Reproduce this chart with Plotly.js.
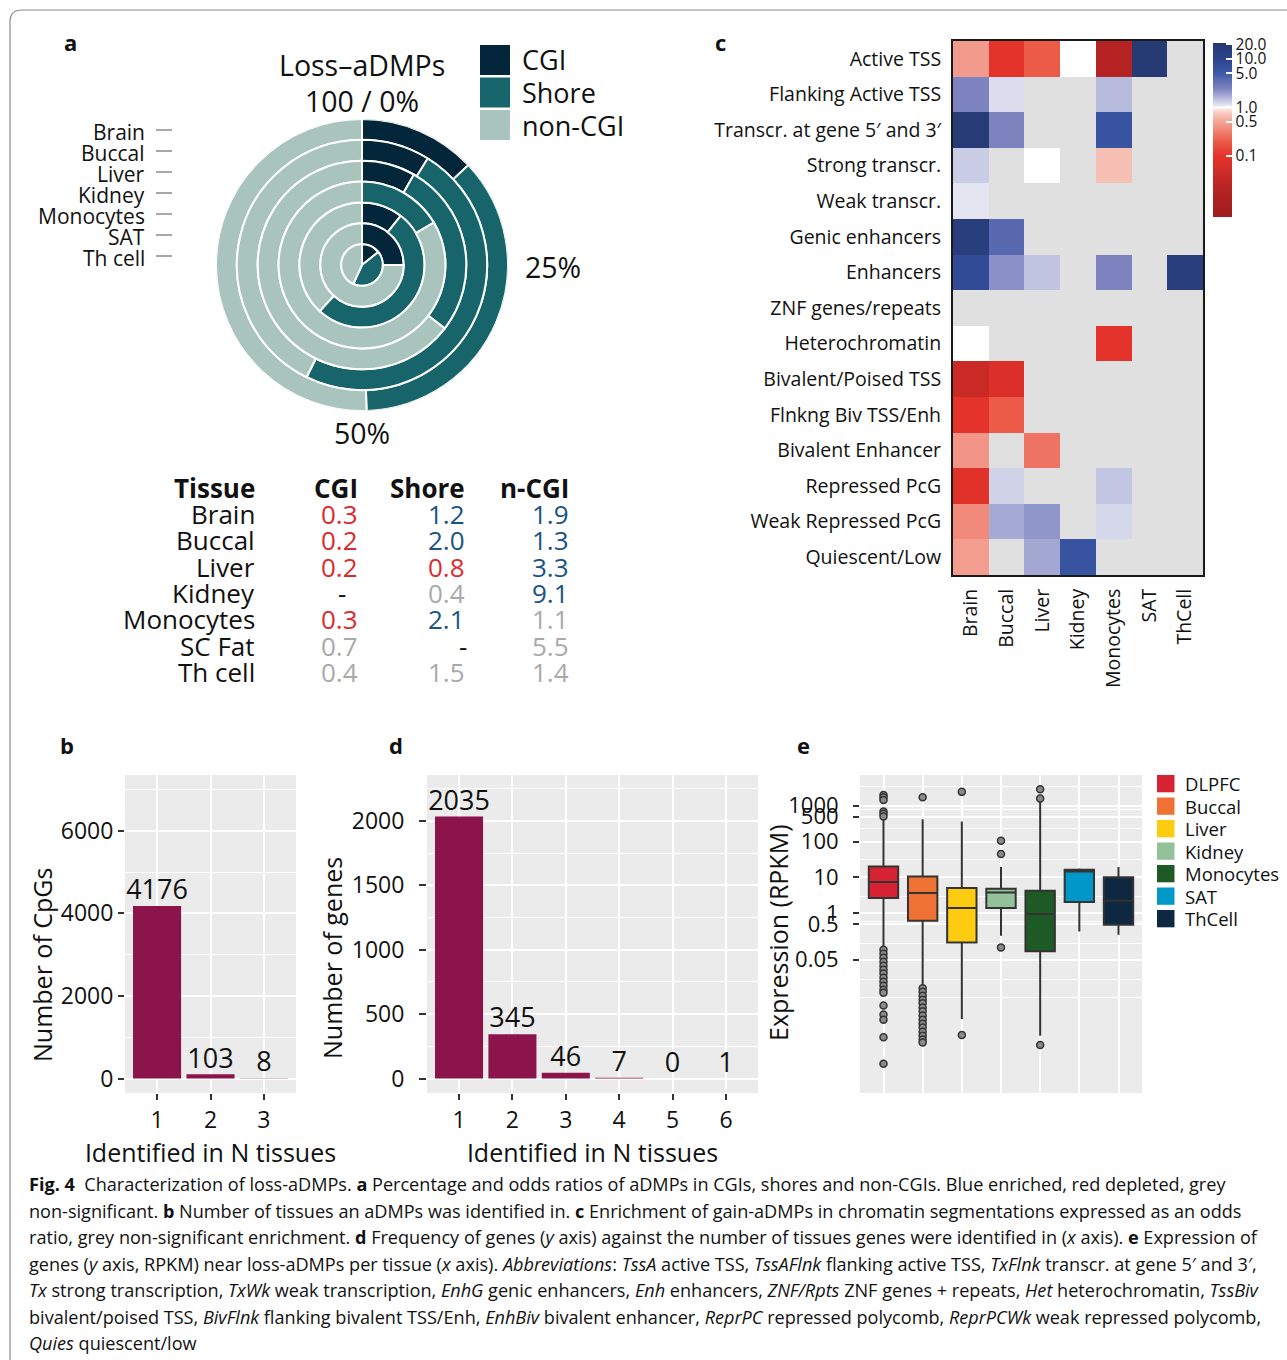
<!DOCTYPE html>
<html><head><meta charset="utf-8">
<script src="https://cdn.plot.ly/plotly-3.0.1.min.js"></script>
<style>html,body{margin:0;padding:0;background:#fff}</style>
</head><body><div id="chart" style="width:1287px;height:1360px"></div>
<script>
const W = 1287, H = 1360;
const FONT = '"Open Sans", sans-serif';

// ---------- Panel a : nested donut (percent of loss-aDMPs) ----------
const ringTissues = ["Brain","Buccal","Liver","Kidney","Monocytes","SAT","Th cell"];
const pctCGI    = [13.0, 8.8, 8.3, 0, 10.6, 25.0, 14.3];
const pctShore  = [36.5, 48.5, 27.1, 16.5, 51.2, 0, 42.6];
const pctNonCGI = [50.5, 42.7, 64.6, 83.5, 38.2, 75.0, 43.1];
const regionNames  = ["CGI","Shore","non-CGI"];
const regionColors = ["#03263a","#17646a","#a9c4bd"];

// ---------- Panel a : odds-ratio table ----------
const tableTissues = ["Brain","Buccal","Liver","Kidney","Monocytes","SC Fat","Th cell"];
const orCGI    = ["0.3","0.2","0.2","-","0.3","0.7","0.4"];
const orShore  = ["1.2","2.0","0.8","0.4","2.1","-","1.5"];
const orNonCGI = ["1.9","1.3","3.3","9.1","1.1","5.5","1.4"];
const sigCGI    = ["dep","dep","dep","none","dep","ns","ns"];
const sigShore  = ["enr","enr","dep","ns","enr","none","ns"];
const sigNonCGI = ["enr","enr","enr","enr","ns","ns","ns"];

// ---------- Panel c : chromatin-state enrichment (odds ratio) ----------
const chromStates = ["Active TSS","Flanking Active TSS","Transcr. at gene 5\u2032 and 3\u2032","Strong transcr.","Weak transcr.","Genic enhancers","Enhancers","ZNF genes/repeats","Heterochromatin","Bivalent/Poised TSS","Flnkng Biv TSS/Enh","Bivalent Enhancer","Repressed PcG","Weak Repressed PcG","Quiescent/Low"];
const heatTissues = ["Brain","Buccal","Liver","Kidney","Monocytes","SAT","ThCell"];
const oddsRatio = [
  [0.45, 0.1,  0.2,  1,    0.02, 20,   null],
  [2.5,  1.2,  null, null, 1.55, null, null],
  [18,   2.5,  null, null, 6,    null, null],
  [1.35, null, 1,    null, 0.7,  null, null],
  [1.12, null, null, null, null, null, null],
  [15,   3.8,  null, null, null, null, null],
  [8,    2.2,  1.45, null, 2.5,  null, 15],
  [null, null, null, null, null, null, null],
  [1,    null, null, null, 0.1,  null, null],
  [0.04, 0.07, null, null, null, null, null],
  [0.1,  0.2,  null, null, null, null, null],
  [0.42, null, 0.27, null, null, null, null],
  [0.09, 1.3,  null, null, 1.42, null, null],
  [0.36, 1.75, 2.1,  null, 1.25, null, null],
  [0.47, null, 1.8,  6,    null, null, null]
];
const cbTickOR   = [20, 10, 5, 1, 0.5, 0.1];
const cbTickText = ["20.0","10.0","5.0","1.0","0.5","0.1"];

// ---------- Panel b ----------
const nTissuesB = [1, 2, 3];
const cpgCounts = [4176, 103, 8];

// ---------- Panel d ----------
const nTissuesD = [1, 2, 3, 4, 5, 6];
const geneCounts = [2035, 345, 46, 7, 0, 1];

// ---------- Panel e : expression (RPKM) box statistics ----------
const exprTissues = ["DLPFC","Buccal","Liver","Kidney","Monocytes","SAT","ThCell"];
const exprColors  = ["#d62232","#ef7234","#fdcb10","#93c19a","#1e5a26","#0098c8","#0d2840"];
const exprQ1      = [2.63, 0.61, 0.151, 1.38, 0.085, 2.03, 0.471];
const exprMedian  = [7.35, 3.62, 1.38, 3.76, 0.94, 14.5, 2.21];
const exprQ3      = [20.0, 10.5, 4.99, 4.77, 4.2, 16.2, 10.1];
const exprLowFence = [0.105, 0.0089, 0.0011, 0.232, 0.00037, 0.306, 0.248];
const exprUpFence  = [407, 423, 362, 19.3, 1310, 17.6, 19.3];
const exprOutliers = [
  [2000,1740,1460,690,594,500,0.0944,0.0731,0.0565,0.0437,0.0338,0.0262,0.0203,0.0156,0.0121,0.0093,0.0072,0.0059,0.0026,0.00145,0.00105,0.00034,0.0000617],
  [1740,0.0079,0.0063,0.0049,0.0038,0.0030,0.0023,0.0018,0.00136,0.00105,0.00081,0.00063,0.00048,0.00037,0.00029,0.00024],
  [2445,0.00039],
  [104.6,44.5,0.109],
  [2910,1590,0.000205],
  [],
  []
];
const exprTickVals = [1000, 500, 100, 10, 1, 0.5, 0.05];
const exprTickText = ["1000","500","100","10","1","0.5","0.05"];

// ================= build =================
const px = x => x / W;
const py = y => 1 - y / H;
const traces = [];
const shapes = [];
const annotations = [];
function ann(text, x, y, size, opt) {
  const a = {text: text, x: px(x), y: py(y), xref: 'paper', yref: 'paper', showarrow: false,
    xanchor: 'center', yanchor: 'middle', font: {family: FONT, size: size, color: '#111'}};
  return Object.assign(a, opt || {});
}

// --- donut as stacked barpolar rings ---
const pctSets = [pctCGI, pctShore, pctNonCGI];
regionNames.forEach((name, k) => {
  const theta = [], width = [], base = [], r = [];
  ringTissues.forEach((t, i) => {
    let start = 0;
    for (let j = 0; j < k; j++) start += pctSets[j][i];
    theta.push((start + pctSets[k][i] / 2) * 3.6);
    width.push(pctSets[k][i] * 3.6);
    base.push(ringTissues.length - 1 - i);
    r.push(1);
  });
  traces.push({type: 'barpolar', subplot: 'polar', name: name, theta: theta, width: width, base: base, r: r,
    text: ringTissues, marker: {color: regionColors[k], line: {color: '#ffffff', width: 2}}, showlegend: false});
});

// donut labels
annotations.push(ann('Loss\u2013aDMPs', 362, 65, 28.5));
annotations.push(ann('100 / 0%', 362, 101, 28.5));
annotations.push(ann('25%', 553, 267, 28.5));
annotations.push(ann('50%', 362, 433, 28.5));
ringTissues.forEach((t, i) => {
  const y = 132 + i * 21;
  annotations.push(ann(t, 147, y, 21, {xanchor: 'right'}));
  shapes.push({type: 'line', xref: 'paper', yref: 'paper', x0: px(156), x1: px(172), y0: py(y - 2), y1: py(y - 2), line: {color: '#8a8a8a', width: 1.5}});
});
// donut legend
regionNames.forEach((n, k) => {
  const top = 45 + k * 32.5;
  shapes.push({type: 'rect', xref: 'paper', yref: 'paper', x0: px(480), x1: px(510), y0: py(top + 30), y1: py(top), fillcolor: regionColors[k], line: {width: 0}});
  annotations.push(ann(n, 520, top + 15, 27, {xanchor: 'left'}));
});

// --- table ---
const sigColor = {dep: '#dc2a30', enr: '#1b5384', ns: '#a9a9a9', none: '#111'};
const colX = [257, 360, 467, 571];
annotations.push(ann('<b>Tissue</b>', colX[0], 488, 26, {xanchor: 'right'}));
annotations.push(ann('<b>CGI</b>', colX[1], 488, 26, {xanchor: 'right'}));
annotations.push(ann('<b>Shore</b>', colX[2], 488, 26, {xanchor: 'right'}));
annotations.push(ann('<b>n-CGI</b>', colX[3], 488, 26, {xanchor: 'right'}));
tableTissues.forEach((t, i) => {
  const y = 514 + i * 26.3;
  annotations.push(ann(t, colX[0], y, 26, {xanchor: 'right'}));
  [[orCGI, sigCGI], [orShore, sigShore], [orNonCGI, sigNonCGI]].forEach((pair, c) => {
    const v = pair[0][i], s = pair[1][i];
    const opt = v === '-' ? {xanchor: 'center', x: px(colX[c + 1] - (c === 0 ? 18 : 4))} : {xanchor: 'right'};
    const a = ann(v, colX[c + 1], y, 26, opt);
    a.font.color = sigColor[s];
    annotations.push(a);
  });
});

// --- heatmap ---
const zMin = -2.25, zMax = 1.33;
const scalePts = [
  [-2.25, '#a01c20'], [-1.7, '#b42322'], [-1.4, '#c92a26'], [-1.0, '#e4332b'], [-0.7, '#ec5a48'],
  [-0.5, '#f08070'], [-0.3, '#f3a293'], [-0.15, '#f6c1b6'], [-0.03, '#fde6e2'], [0, '#ffffff'],
  [0.03, '#ebebf5'], [0.1, '#d4d6ea'], [0.25, '#a4a9d4'], [0.4, '#7b82bf'], [0.55, '#5f6db3'],
  [0.7, '#3d59a5'], [0.85, '#34509c'], [1.0, '#2b438b'], [1.3, '#263a74'], [1.33, '#223368']
];
const colorscale = scalePts.map(p => [(p[0] - zMin) / (zMax - zMin), p[1]]);
traces.push({type: 'heatmap', xaxis: 'x2', yaxis: 'y2', x: heatTissues, y: chromStates,
  z: oddsRatio.map(row => row.map(v => v == null ? null : Math.log10(v))),
  zmin: zMin, zmax: zMax, colorscale: colorscale, hoverongaps: false,
  colorbar: {x: px(1213), xanchor: 'left', y: py(42.7), yanchor: 'top', len: 174, lenmode: 'pixels',
    thickness: 19, thicknessmode: 'pixels', outlinewidth: 0, xpad: 0, ypad: 0,
    tickmode: 'array', tickvals: cbTickOR.map(v => Math.log10(v)), ticktext: cbTickText,
    ticks: 'inside', ticklen: 6, tickwidth: 2, tickcolor: '#ffffff', ticklabelstandoff: 2,
    tickfont: {family: FONT, size: 15.5, color: '#111'}}});
shapes.push({type: 'rect', xref: 'x2 domain', yref: 'y2 domain', x0: 0, x1: 1, y0: 0, y1: 1, fillcolor: '#e0e0e0', line: {width: 0}, layer: 'below'});

// --- panel b bars ---
const barColor = '#8b154b';
traces.push({type: 'bar', xaxis: 'x3', yaxis: 'y3', x: nTissuesB, y: cpgCounts, width: 0.9, marker: {color: barColor}, showlegend: false});
traces.push({type: 'scatter', mode: 'text', xaxis: 'x3', yaxis: 'y3', x: nTissuesB, y: cpgCounts, text: cpgCounts.map(String),
  textposition: 'top center', textfont: {family: FONT, size: 27, color: '#111'}, cliponaxis: false, showlegend: false});

// --- panel d bars ---
traces.push({type: 'bar', xaxis: 'x4', yaxis: 'y4', x: nTissuesD, y: geneCounts, width: 0.9, marker: {color: barColor}, showlegend: false});
traces.push({type: 'scatter', mode: 'text', xaxis: 'x4', yaxis: 'y4', x: nTissuesD, y: geneCounts, text: geneCounts.map(String),
  textposition: 'top center', textfont: {family: FONT, size: 27, color: '#111'}, cliponaxis: false, showlegend: false});

// --- panel e boxes ---
exprTissues.forEach((t, i) => {
  traces.push({type: 'box', xaxis: 'x5', yaxis: 'y5', name: t, x: [i + 1],
    q1: [exprQ1[i]], median: [exprMedian[i]], q3: [exprQ3[i]],
    lowerfence: [exprLowFence[i]], upperfence: [exprUpFence[i]],
    width: 0.75, whiskerwidth: 0, boxpoints: false, fillcolor: exprColors[i],
    line: {color: '#333333', width: 2}, showlegend: false});
});
const outX = [], outY = [];
exprOutliers.forEach((arr, i) => arr.forEach(v => { outX.push(i + 1); outY.push(v); }));
traces.push({type: 'scatter', mode: 'markers', xaxis: 'x5', yaxis: 'y5', x: outX, y: outY,
  marker: {symbol: 'circle', size: 7, color: '#8a8a8a', line: {color: '#333333', width: 1.5}}, showlegend: false});
shapes.push({type: 'line', xref: 'x5 domain', yref: 'y5', x0: 0, x1: 1, y0: 0, y1: 0, line: {color: '#000', width: 1.5}, layer: 'above'});
// legend e
exprTissues.forEach((t, i) => {
  const top = 775 + i * 22.5;
  shapes.push({type: 'rect', xref: 'paper', yref: 'paper', x0: px(1157), x1: px(1174.5), y0: py(top + 17.3), y1: py(top), fillcolor: exprColors[i], line: {width: 0}});
  annotations.push(ann(t, 1183, top + 8.6, 18.5, {xanchor: 'left'}));
});

// axis titles (y) for b, d, e
annotations.push(ann('Number of CpGs', 42, 965, 25, {textangle: -90}));
annotations.push(ann('Number of genes', 332, 958, 25, {textangle: -90}));
annotations.push(ann('Expression (RPKM)', 778, 933, 25, {textangle: -90}));

// panel letters
[['a', 70, 42], ['c', 720, 42], ['b', 67, 745], ['d', 396, 745], ['e', 803, 745]].forEach(p => {
  annotations.push(ann('<b>' + p[0] + '</b>', p[1], p[2], 22));
});

// caption
const captionLines = [
  '<b>Fig. 4</b>  Characterization of loss-aDMPs. <b>a</b> Percentage and odds ratios of aDMPs in CGIs, shores and non-CGIs. Blue enriched, red depleted, grey',
  'non-significant. <b>b</b> Number of tissues an aDMPs was identified in. <b>c</b> Enrichment of gain-aDMPs in chromatin segmentations expressed as an odds',
  'ratio, grey non-significant enrichment. <b>d</b> Frequency of genes (<i>y</i> axis) against the number of tissues genes were identified in (<i>x</i> axis). <b>e</b> Expression of',
  'genes (<i>y</i> axis, RPKM) near loss-aDMPs per tissue (<i>x</i> axis). <i>Abbreviations</i>: <i>TssA</i> active TSS, <i>TssAFlnk</i> flanking active TSS, <i>TxFlnk</i> transcr. at gene 5\u2032 and 3\u2032,',
  '<i>Tx</i> strong transcription, <i>TxWk</i> weak transcription, <i>EnhG</i> genic enhancers, <i>Enh</i> enhancers, <i>ZNF/Rpts</i> ZNF genes + repeats, <i>Het</i> heterochromatin, <i>TssBiv</i>',
  'bivalent/poised TSS, <i>BivFlnk</i> flanking bivalent TSS/Enh, <i>EnhBiv</i> bivalent enhancer, <i>ReprPC</i> repressed polycomb, <i>ReprPCWk</i> weak repressed polycomb,',
  '<i>Quies</i> quiescent/low'
];
captionLines.forEach((l, i) => {
  annotations.push(ann(l, 27, 1184 + i * 26.5, 18.1, {xanchor: 'left'}));
});

// frame
shapes.push({type: 'path', xref: 'paper', yref: 'paper',
  path: `M ${px(10)},0 L ${px(10)},${py(22)} Q ${px(10)},${py(10)} ${px(22)},${py(10)} L 1,${py(10)}`,
  line: {color: '#8c8c8c', width: 1.2}});

const tickFont = s => ({family: FONT, size: s, color: '#111'});
const layout = {
  width: W, height: H, margin: {l: 0, r: 0, t: 0, b: 0, pad: 0},
  paper_bgcolor: '#ffffff', plot_bgcolor: '#ebebeb',
  font: {family: FONT, color: '#111'},
  showlegend: false,
  polar: {domain: {x: [px(362 - 146), px(362 + 146)], y: [py(265 + 146), py(265 - 146)]},
    bgcolor: 'rgba(0,0,0,0)', bargap: 0, hole: 0,
    radialaxis: {visible: false, range: [0, 7]},
    angularaxis: {visible: false, rotation: 90, direction: 'clockwise', showline: false, showgrid: false}},
  xaxis2: {domain: [px(953), px(1203)], anchor: 'y2', type: 'category', tickangle: -90, tickfont: tickFont(19.5),
    showline: true, mirror: true, linecolor: '#1a1a1a', linewidth: 2, ticks: '', showgrid: false, zeroline: false, ticklabelstandoff: 4},
  yaxis2: {domain: [py(575), py(41)], anchor: 'x2', type: 'category', autorange: 'reversed', tickfont: tickFont(19.5),
    showline: true, mirror: true, linecolor: '#1a1a1a', linewidth: 2, ticks: '', showgrid: false, zeroline: false, ticklabelstandoff: 6},
  xaxis3: {domain: [px(125), px(296)], anchor: 'y3', range: [0.4, 3.6], tickmode: 'array', tickvals: nTissuesB,
    ticks: 'outside', ticklen: 6, tickwidth: 2, tickcolor: '#333', gridcolor: '#ffffff', gridwidth: 2, zeroline: false,
    tickfont: tickFont(23), title: {text: 'Identified in N tissues', font: tickFont(25), standoff: 8}},
  yaxis3: {domain: [py(1093), py(775)], anchor: 'x3', range: [-350, 7350], tickmode: 'array', tickvals: [0, 2000, 4000, 6000],
    ticks: 'outside', ticklen: 6, tickwidth: 2, tickcolor: '#333', gridcolor: '#ffffff', gridwidth: 2, zeroline: false,
    minor: {tickmode: 'array', tickvals: [1000, 3000, 5000, 7000], showgrid: true, gridcolor: '#ffffff', gridwidth: 1, ticks: ''},
    tickfont: tickFont(23)},
  xaxis4: {domain: [px(427), px(758)], anchor: 'y4', range: [0.4, 6.6], tickmode: 'array', tickvals: nTissuesD,
    ticks: 'outside', ticklen: 6, tickwidth: 2, tickcolor: '#333', gridcolor: '#ffffff', gridwidth: 2, zeroline: false,
    tickfont: tickFont(23), title: {text: 'Identified in N tissues', font: tickFont(25), standoff: 8}},
  yaxis4: {domain: [py(1093), py(775)], anchor: 'x4', range: [-112, 2357], tickmode: 'array', tickvals: [0, 500, 1000, 1500, 2000],
    ticks: 'outside', ticklen: 7, tickwidth: 2, tickcolor: '#333', gridcolor: '#ffffff', gridwidth: 2, zeroline: false,
    minor: {tickmode: 'array', tickvals: [250, 750, 1250, 1750, 2250], showgrid: true, gridcolor: '#ffffff', gridwidth: 1, ticks: ''},
    tickfont: tickFont(23), ticklabelstandoff: 10},
  xaxis5: {domain: [px(860), px(1142)], anchor: 'y5', range: [0.4, 7.6], tickmode: 'array', tickvals: [1, 2, 3, 4, 5, 6, 7],
    showticklabels: false, ticks: '', gridcolor: '#ffffff', gridwidth: 2, zeroline: false},
  yaxis5: {domain: [py(1093), py(775)], anchor: 'x5', type: 'log', range: [-5.03, 3.86], tickmode: 'array',
    tickvals: exprTickVals, ticktext: exprTickText, ticks: 'outside', ticklen: 6, tickwidth: 2, tickcolor: '#333',
    gridcolor: '#ffffff', gridwidth: 2, zeroline: false, tickfont: tickFont(22), ticklabelstandoff: 10,
    minor: {tickmode: 'array', tickvals: [3440, 770, 237, 30.8, 2.91, 0.582, 0.145, 0.0137, 0.00423], showgrid: true, gridcolor: '#ffffff', gridwidth: 1, ticks: ''}},
  shapes: shapes,
  annotations: annotations
};
Plotly.newPlot('chart', traces, layout, {displayModeBar: false, staticPlot: true});
</script>
</body></html>
